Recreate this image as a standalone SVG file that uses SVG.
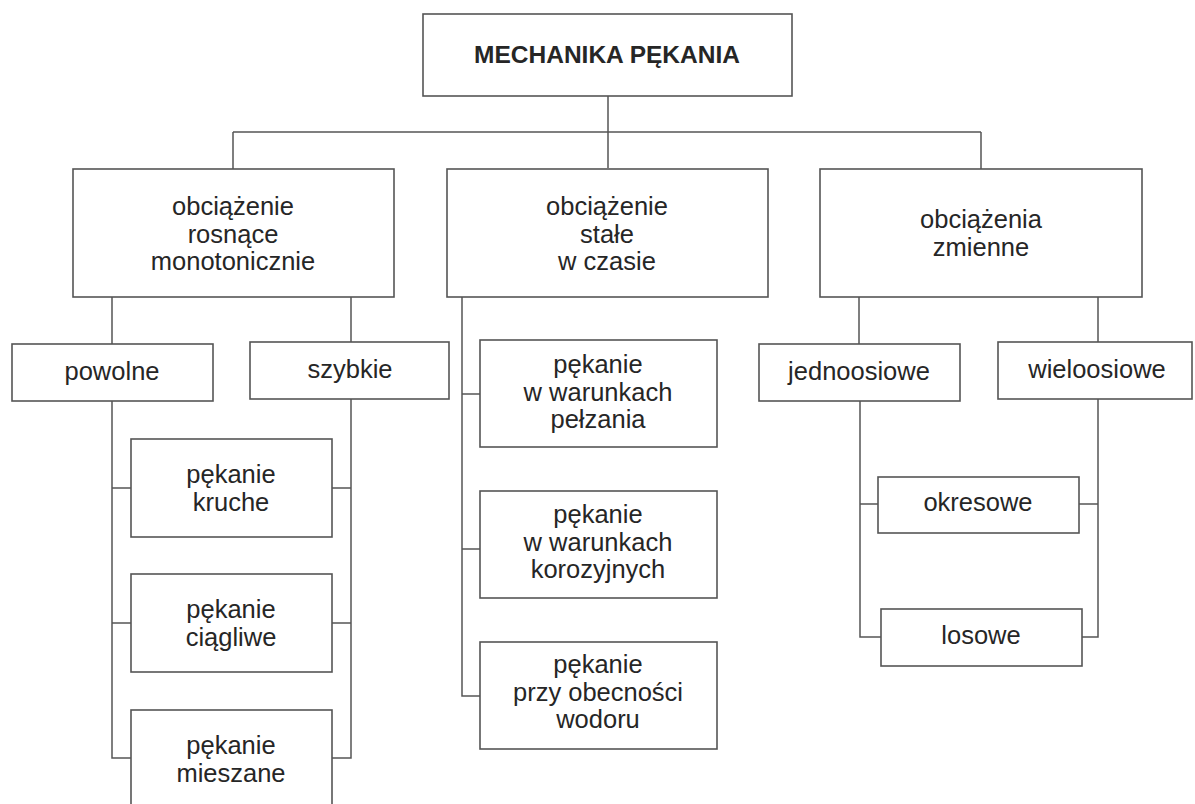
<svg xmlns="http://www.w3.org/2000/svg" width="1195" height="804" viewBox="0 0 1195 804">
<style>
.box{fill:#fff;stroke:#555;stroke-width:1.6}
.ln{fill:none;stroke:#555;stroke-width:1.5}
.t{font-family:"Liberation Sans",Arial,sans-serif;font-size:25.5px;fill:#262626;text-anchor:middle}
.title{font-family:"Liberation Sans",Arial,sans-serif;font-size:24.5px;font-weight:bold;fill:#262626;text-anchor:middle}
</style>
<rect width="1195" height="804" fill="#fff"/>
<g id="connectors">
<path class="ln" d="M608,96V168M233,132H981M233,132V169M981,132V169"/>
<path class="ln" d="M112,297V344M351,297V342M112,401V758H131M351,399V758H332M112,488H131M332,488H351M112,623H131M332,623H351"/>
<path class="ln" d="M462,297V696H480M462,394H480M462,549H480"/>
<path class="ln" d="M859,297V344M1098,297V342M860,401V637H881M1098,399V637H1082M860,504H878M1079,504H1098"/>
</g>
<g id="root"><rect class="box" x="423" y="14" width="369" height="82"/><text class="title" x="607" y="63">MECHANIKA PĘKANIA</text></g>
<g id="n-rosnace"><rect class="box" x="73" y="169" width="321" height="128"/><text class="t" x="233" y="215">obciążenie</text><text class="t" x="233" y="242.5">rosnące</text><text class="t" x="233" y="270">monotonicznie</text></g>
<g id="n-stale"><rect class="box" x="447" y="169" width="321" height="128"/><text class="t" x="607" y="215">obciążenie</text><text class="t" x="607" y="242.5">stałe</text><text class="t" x="607" y="270">w czasie</text></g>
<g id="n-zmienne"><rect class="box" x="820" y="169" width="322" height="128"/><text class="t" x="981" y="228">obciążenia</text><text class="t" x="981" y="256">zmienne</text></g>
<g id="n-powolne"><rect class="box" x="12" y="344" width="201" height="57"/><text class="t" x="112" y="380">powolne</text></g>
<g id="n-szybkie"><rect class="box" x="250" y="342" width="199" height="57"/><text class="t" x="350" y="378">szybkie</text></g>
<g id="n-kruche"><rect class="box" x="131" y="439" width="201" height="98"/><text class="t" x="231" y="483">pękanie</text><text class="t" x="231" y="511">kruche</text></g>
<g id="n-ciagliwe"><rect class="box" x="131" y="574" width="201" height="98"/><text class="t" x="231" y="618">pękanie</text><text class="t" x="231" y="646">ciągliwe</text></g>
<g id="n-mieszane"><rect class="box" x="131" y="710" width="201" height="100"/><text class="t" x="231" y="754">pękanie</text><text class="t" x="231" y="782">mieszane</text></g>
<g id="n-pelzania"><rect class="box" x="480" y="340" width="237" height="107"/><text class="t" x="598" y="373">pękanie</text><text class="t" x="598" y="400.5">w warunkach</text><text class="t" x="598" y="428">pełzania</text></g>
<g id="n-korozyjnych"><rect class="box" x="480" y="491" width="237" height="107"/><text class="t" x="598" y="523">pękanie</text><text class="t" x="598" y="550.5">w warunkach</text><text class="t" x="598" y="578">korozyjnych</text></g>
<g id="n-wodoru"><rect class="box" x="480" y="642" width="237" height="107"/><text class="t" x="598" y="673">pękanie</text><text class="t" x="598" y="700.5">przy obecności</text><text class="t" x="598" y="728">wodoru</text></g>
<g id="n-jednoosiowe"><rect class="box" x="759" y="344" width="201" height="57"/><text class="t" x="859" y="380">jednoosiowe</text></g>
<g id="n-wieloosiowe"><rect class="box" x="998" y="342" width="194" height="57"/><text class="t" x="1097" y="378">wieloosiowe</text></g>
<g id="n-okresowe"><rect class="box" x="878" y="477" width="201" height="56"/><text class="t" x="978" y="511">okresowe</text></g>
<g id="n-losowe"><rect class="box" x="881" y="609" width="201" height="57"/><text class="t" x="981" y="644">losowe</text></g>
</svg>
